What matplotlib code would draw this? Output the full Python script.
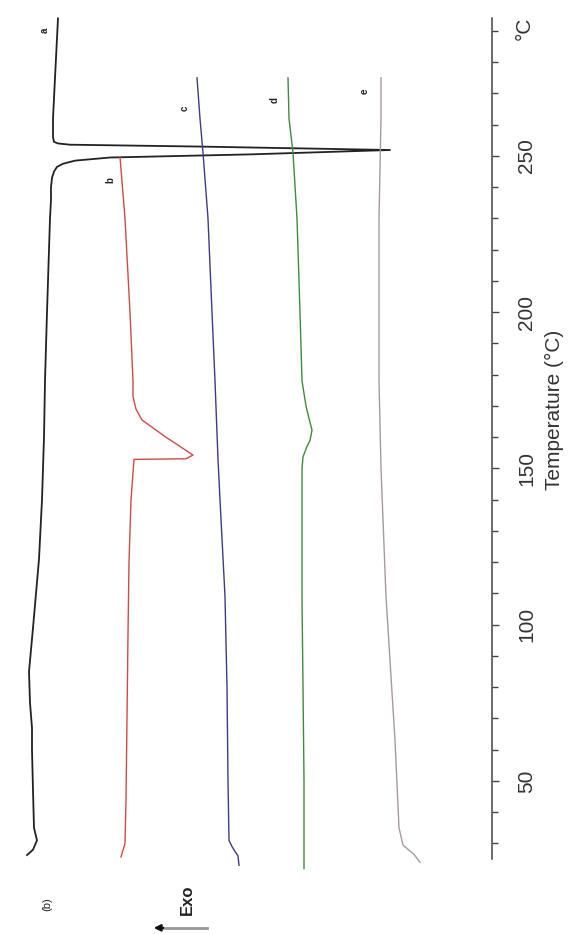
import matplotlib.pyplot as plt

plt.rcParams['font.family'] = ['Liberation Sans', 'DejaVu Sans']

# DSC traces, temperature (°C) vs heat flow (arbitrary units, exo to the left)
temp_a = [26.3, 28, 31, 35, 47, 60, 67, 75, 85, 92, 99, 110, 121, 140, 160, 178, 200,
          220, 230, 236, 240, 243, 245, 246.5, 247.5, 248.5, 249.5, 250.5, 251.9,
          253.0, 253.6, 254.0, 254.5, 256, 262, 275, 294]
flow_a = [27, 33, 37, 34, 33, 32, 32, 30, 29, 31, 33, 36, 39, 42, 44, 45, 47,
          49, 50, 51, 51, 52, 54, 57, 63, 75, 110, 250, 390,
          200, 70, 58, 54, 53, 53, 55, 58]

temp_b = [25.7, 30, 44, 70, 97, 120, 140, 152.9, 153.1, 154.3, 160, 165.5, 169, 173,
          178, 200, 230, 249.7]
flow_b = [121, 125, 126, 127, 128, 129, 131, 134, 186, 193, 166, 142, 136, 133,
          133, 130, 125, 120]

temp_c = [23, 26, 29, 31, 50, 80, 109, 140, 153, 178, 200, 230, 251, 262, 275]
flow_c = [239, 238, 232, 229, 228, 227, 225, 220, 218, 215, 212, 208, 203, 200, 197]

temp_d = [22, 30, 50, 80, 108, 140, 150, 153.7, 157, 159, 162.3, 166, 170, 178, 200,
          230, 251, 262, 275]
flow_d = [304, 304, 304, 303, 302, 302, 302, 303, 307, 310, 312, 309, 306, 302, 300,
          297, 293, 289, 288]

temp_e = [24, 26.5, 29.5, 35, 63, 109, 150, 178, 230, 262, 275]
flow_e = [420, 414, 403, 399, 395, 386, 381, 379, 379, 381, 381]

curve_labels = ['a', 'b', 'c', 'd', 'e']
major_ticks = [50, 100, 150, 200, 250]
minor_ticks = list(range(30, 300, 10))

fig = plt.figure(figsize=(5.68, 9.34), dpi=100)
ax = fig.add_axes([0, 0, 1, 1])
ax.set_xlim(0, 568)
ax.set_ylim(1.04, 299.9)

ax.plot(flow_a, temp_a, color='#222222', lw=1.3)
ax.plot(flow_b, temp_b, color='#d04a4a', lw=1.0)
ax.plot(flow_c, temp_c, color='#3c3c86', lw=1.0)
ax.plot(flow_d, temp_d, color='#3f8a3f', lw=1.0)
ax.plot(flow_e, temp_e, color='#a89a9a', lw=1.0)

# curve letters
label_pos = [(45, 290.3), (110, 242.3), (185, 265.4), (275, 267.9), (365, 270.8)]
for lab, (x, y) in zip(curve_labels, label_pos):
    ax.text(x, y, lab, rotation=90, ha='center', va='center', fontsize=7,
            fontweight='bold', color='#222222')

# temperature axis drawn as a vertical spine
for s in ['left', 'top', 'bottom']:
    ax.spines[s].set_visible(False)
ax.spines['right'].set_position(('data', 492))
ax.spines['right'].set_bounds(25, 294)
ax.spines['right'].set_color('#444444')
ax.spines['right'].set_linewidth(1.1)
ax.set_xticks([])
ax.yaxis.set_ticks_position('right')
ax.set_yticks(major_ticks)
ax.set_yticks(minor_ticks, minor=True)
ax.tick_params(axis='y', which='major', direction='out', length=5, width=1,
               color='#444444', labelrotation=90, labelsize=15, pad=13,
               labelcolor='#333333')
ax.tick_params(axis='y', which='minor', direction='out', length=4, width=1,
               color='#444444')
for t in ax.get_yticklabels():
    t.set_verticalalignment('center')

ax.text(524, 291, '°C', rotation=90, ha='center', va='center', fontsize=15,
        color='#333333')
ax.text(554, 168.7, 'Temperature (°C)', rotation=90, ha='center', va='center',
        fontsize=15, color='#333333')

ax.text(47, 10.6, '(b)', rotation=90, ha='center', va='center', fontsize=8,
        color='#222222')
ax.text(187, 11.9, 'Exo', rotation=90, ha='center', va='center', fontsize=12,
        fontweight='bold', color='#222222')
ax.plot([162, 207], [3.0, 3.0], color='#999999', lw=2)
ax.annotate('', xy=(151, 3.0), xytext=(166, 3.0),
            arrowprops=dict(arrowstyle='-|>', color='#111111', lw=1.5,
                            mutation_scale=10))

fig.savefig('out.png', dpi=100)
